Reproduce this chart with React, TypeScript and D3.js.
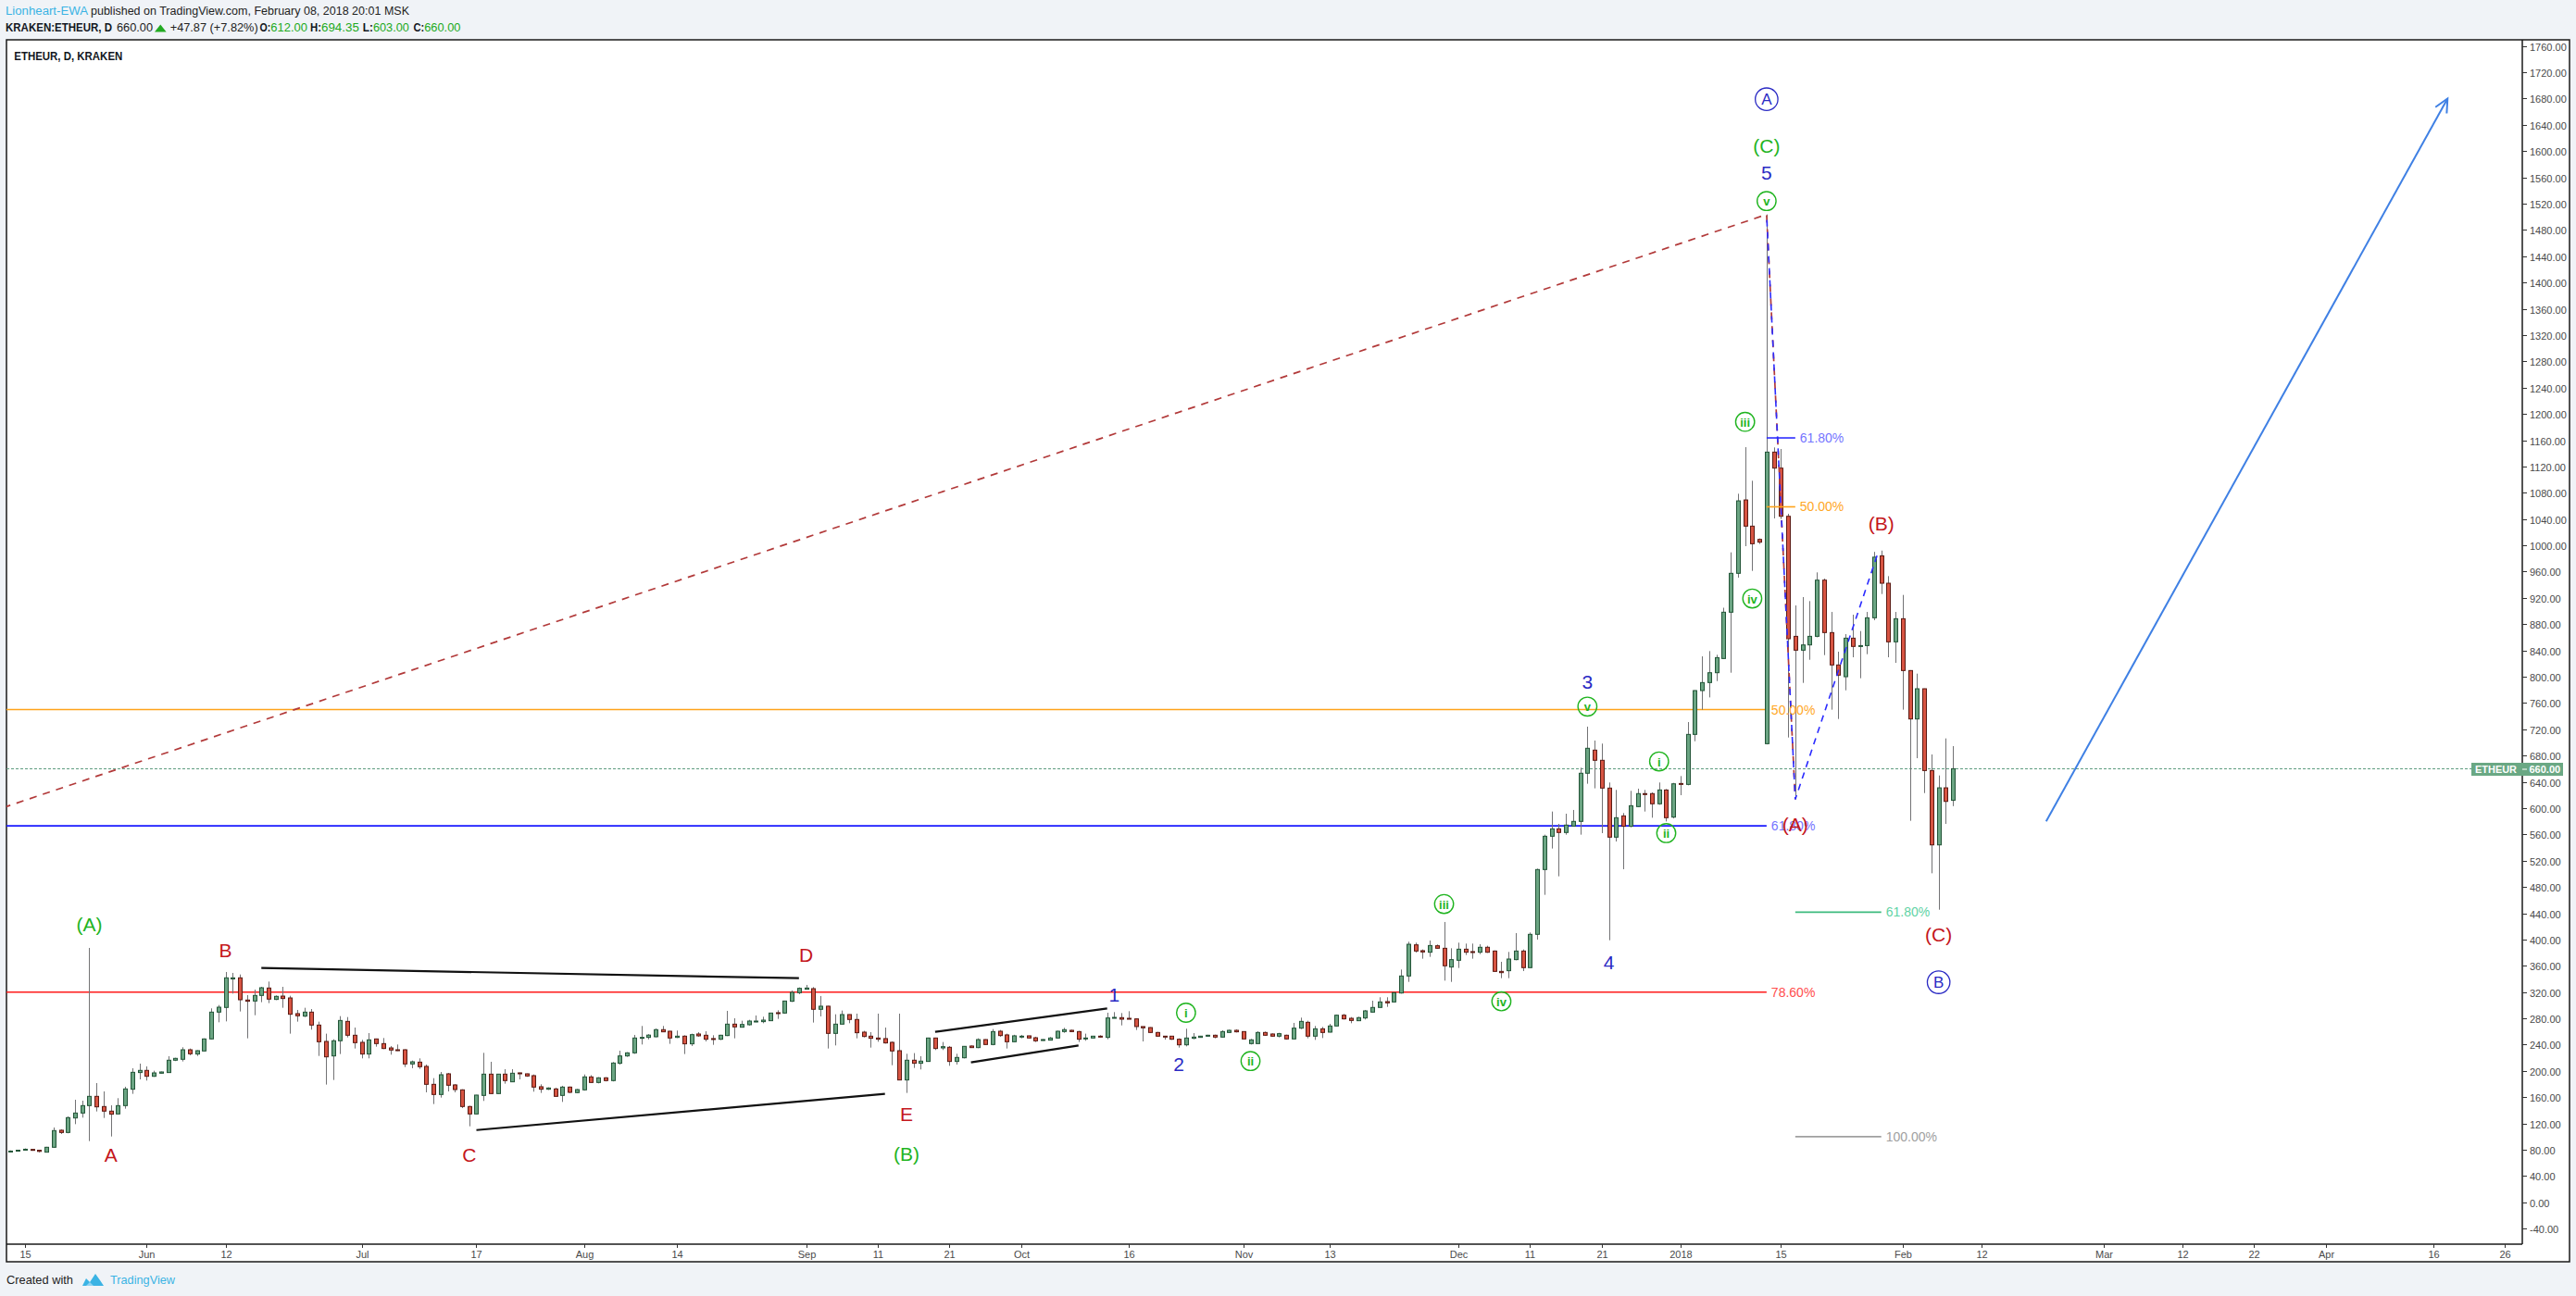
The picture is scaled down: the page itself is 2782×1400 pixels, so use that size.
import React from "react";
import * as d3 from "d3";

const FONT = "'Liberation Sans', Arial, Helvetica, sans-serif";

// ---------- data: daily candles, first candle on 2017-05-13 ----------
const firstDay = "2017-05-13";

const opens = [
  77.5,78.5,79.5,80.5,79.3,76.3,83.8,109.7,106.3,128.4,135.9,147.2,161.3,145.8,138.8,134.5,147.2,172.1,197.5,
  200.8,191.8,196.5,197.5,216.3,217.7,232.2,225.7,230.4,248.7,289.5,296.6,340,341.7,307.9,306.4,314.9,326.2,308.8,313.9,311.1,287.2,283.4,289.5,269.8,244.9,222.8,245.9,275.4,254.3,
  243.5,225.7,248.7,241.6,235.0,232.2,232.2,210.6,213.4,206.9,179.6,164.1,195.6,178.7,171.2,145.8,134.5,162.7,195.1,165.5,195.1,183.4,197.0,195.6,192.8,175.9,172.1,172.6,162.7,175.4,167.0,
  171.2,190.9,182.4,189.5,185.3,211.6,222.8,227.5,249.6,251.0,252.0,262.8,260.4,251.0,252.9,241.2,256.2,254.3,249.2,248.2,253.8,271.2,266.5,270.3,274.5,275.0,276.4,288.6,288.1,306.0,319.1,
  324.3,325.2,293.8,298.5,257.1,271.2,285.8,278.3,259.0,252.9,250.1,249.2,243.5,230.8,186.2,216.3,211.6,214.4,250.1,235.0,236.0,214.4,220.0,237.9,235.5,247.7,240.2,260.4,254.8,244.4,
  252.0,253.4,250.5,246.3,246.8,250.1,259.9,261.8,259.9,248.7,250.1,252.9,251.0,280.6,281.1,280.1,279.2,267.5,266.0,258.5,252.9,252.9,248.2,239.7,249.6,251.0,252.9,254.3,251.5,258.5,261.8,
  259.9,241.6,241.6,258.5,256.2,252.9,254.3,248.7,265.1,274.0,252.9,264.1,259.0,268.4,284.8,280.1,276.4,280.6,289.5,296.6,305.5,305.0,318.6,344.5,391.9,383.0,380.6,390.5,386.7,358.1,
  368.4,385.3,381.6,380.6,388.2,382.5,351.5,352.5,369.4,382.5,357.2,407.9,506.5,557.2,568.5,562.9,572.7,579.8,653.1,688.3,672.8,630.5,555.8,588.2,572.3,602.3,622.1,622.1,606.6,627.6,586.3,
  637.5,636.1,712.2,778.9,791.1,806.1,827.7,898.2,957.4,1069.1,1029.2,1009.0,698.1,1141.9,1117.5,1044.2,861.5,840.4,848.4,861.5,947.0,867.2,817.9,800.0,858.7,846.1,847.4,889.7,984,942.3,853.1,
  888.3,809.4,735.7,781.7,657.2,544.0,630.9,612
];
const highs = [
  79,80,82,81,80,84.5,113.9,111,130.8,156.1,154.7,387.2,181.5,168.8,147.7,158.5,175.9,204.1,211.1,
  206.9,200.3,199,222.4,220,236.0,234.1,231.5,249.5,295.2,300.3,350.6,349.2,346.8,315.4,323.8,328.0,336.0,314.9,328.0,314.4,292.8,296.1,294.2,275.0,256.7,248.2,283.4,282.0,266.0,
  247.3,257.6,249.2,250.1,237.9,240.2,233.2,215.8,219.1,209.7,189.0,198.4,197,180,172,147,163.5,227.5,213.9,195.6,202.6,202.6,197.5,196,194.6,179.6,175,174.5,177.3,176.3,172.6,
  194.6,193.5,190.5,190.5,213.5,230.8,228.5,254.8,268.4,256,264.6,268.4,261,261.4,254.3,256.7,259.0,260.4,254.3,255,291.4,280.1,276.4,277.8,284.4,282.5,288.6,292.3,306.9,322.4,327.1,
  330.9,327.6,314.0,299,286.2,291.9,286,287.2,261,259.0,287.2,266.0,244.9,287.2,226.1,227.1,222.4,250.6,250.6,244.0,237.9,226.1,237.9,238.8,249.6,248.2,263.7,262.3,256.7,255,
  254.8,253.5,252,248.5,251.5,261.4,265.6,262.8,261,256.7,253.4,254.3,288.6,289.5,288.1,290.9,280,267.5,266.5,259.5,253.4,253,249.6,264.2,257.6,253.4,255,255.2,261.8,262.8,263.2,
  260.4,248.7,260.4,259.9,257.1,258,255.2,273.1,281.1,276.4,268.4,267.0,271.6,285.8,286.7,282.0,282.5,292.8,306.9,312.1,312.1,319.6,354.3,396.6,395.2,384.9,398.5,392.4,426.7,386.7,
  395.2,393.8,393.8,392.8,390.5,383.4,366.1,381.1,409.8,384.9,410.7,507.9,559.6,594.8,576.0,591.5,597.2,661.5,724.0,702.9,698.2,639.0,627.7,592.5,626.3,629.6,627.7,624.0,639.0,629.0,638.4,
  648.8,731.0,779.5,831.0,839.0,833.4,905,989.3,1078.5,1149.4,1098.3,1010.5,1503.6,1149.0,1146.6,1048,908.5,921.2,915.1,958.8,949.4,898.6,838.1,864.8,894.4,869.5,898.6,990,992,953.1,898.6,
  924.5,810,804.7,782,681.7,649.7,706.1,694.35
];
const lows = [
  76.5,78,79,78.5,76,76,83,104,105,119.0,128.9,93.2,138.3,128.4,100.2,134,142.5,165.1,187.1,
  185.3,191,196,197,215,214.4,223.8,222.8,230,248,274.0,275.4,317.7,290.5,249.6,284.8,304.6,303.2,307.8,296.1,256.7,275.0,282,262.8,222.8,179.2,186.2,225.7,251.0,234.1,
  219.1,219.1,236.9,233.2,224.7,230.4,205.9,204.1,203.1,167.4,149.6,159.4,168.8,167.4,143.4,115.7,134,154.3,165,165,180.6,183,187.1,191,168.4,166.5,171,160.8,152.8,166,166,
  170,182,181,184,184,209.7,221.4,226,240.2,248,251,259,241.2,250,225.7,237.9,252,244.9,239.7,247,253,249.6,266,269,274,272.6,275.9,279.2,287,305,316.8,
  324,273.6,283.0,234.1,238.8,271,272.6,249.6,251,235.5,244.4,241.6,208.7,186,166.5,204.5,202.2,214,231.8,231.8,207.8,209.7,219,235,234.6,239.7,239,252.0,234.1,244,
  249.6,249.6,244.0,245.8,246.3,249,258,259,244.0,245.9,249.6,251,248.2,280,269.3,278.7,262.3,244.9,258,252,247.7,247.3,235.5,237.4,248.2,250.6,252,249.6,251,258,258.5,
  248.2,240.2,241,253.4,252,251,247.7,248.2,263.7,249.6,247.2,250.0,258.5,268,278.2,272.6,275.9,278.3,289.0,296.1,297.5,304.6,317.7,335.5,380.2,370.8,373.6,385.8,337.4,335.5,
  356.7,376.4,370.8,377.8,379.7,350.6,341.2,341.2,368.4,352.0,356.7,399.9,468.0,538.5,496.2,559.6,572,559.6,637.1,630.1,561.9,398.9,549.2,507.0,570.9,601.4,594.8,585.4,605.1,579.7,584.4,
  619.7,634.7,701.8,749.8,768.5,793.4,827,806.1,950.8,998.7,961.1,1002,697,1040.9,1040,707.5,613.5,790.6,825.8,860,832.9,749.8,735.7,779.3,829.6,797.7,834.3,886,925.9,829.6,821.1,
  749.8,580.7,676.0,622.9,500.8,445.4,576.0,603
];
const closes = [
  78.0,79.3,80.8,79.3,77.5,83.8,109.2,106.3,128.9,135.9,147.2,161.3,145.3,138.8,134.1,147.2,172.6,197.9,200.8,
  191.8,197.0,198.4,216.3,219.1,232.2,226.1,230.8,248.7,289.5,297.0,341.7,341.7,308.3,306.0,314.9,326.6,309.3,313.5,310.2,286.2,283.9,289.5,269.8,244.4,221.4,245.9,276.8,254.3,243.0,
  225.7,247.3,241.6,234.1,231.8,231.3,210.6,213.9,206.4,179.6,164.1,194.2,178.2,171.6,145.8,134.5,163.2,195.1,165.5,195.1,185.3,196.5,195.6,192.3,175.4,172.1,174.0,161.3,175.4,167.4,171.6,
  190.9,182.4,189.5,185.3,212.0,222.8,227.5,250.1,251.0,254.5,262.8,259.5,250.1,252.9,241.2,255.2,253.4,248.2,248.2,254.3,271.2,267.0,270.7,275.9,275.9,277.3,288.1,287.6,306.4,319.6,325.7,
  326.2,293.8,298.5,257.1,271.2,285.8,278.3,258.1,252.4,249.6,248.2,242.6,230.4,186.2,216.3,211.6,214.9,250.1,234.1,236.9,214.4,220.5,237.4,235.5,247.7,240.2,259.9,253.8,244.4,253.4,
  252.9,250.1,245.8,247.7,250.1,260.4,262.8,259.9,248.2,250.1,252.9,251.5,280.6,281.5,278.7,279.2,267.5,265.6,258.5,252.9,252.4,248.2,239.7,250.1,251.5,252.9,254.3,251.5,259.9,261.8,259.5,
  248.7,247.3,258.5,254.3,252.9,256.7,248.7,265.1,275.4,252.9,264.1,258.5,268.4,284.8,279.2,276.8,281.1,291.4,296.6,305.0,303.6,319.1,344.5,392.8,382.5,381.1,390.9,386.7,360.0,369.4,
  385.3,380.6,380.6,388.2,380.6,351.5,349.6,370.3,382.5,357.2,407.9,506.5,557.2,568.5,562.9,574.2,579.8,653.1,691.1,672.8,630.5,555.8,585.4,572.3,603.7,622.1,621.1,606.6,627.7,585.4,637.0,
  636.1,712.2,778.9,791.1,806.1,829.1,898.2,957.4,1067.7,1029.2,1002.4,1004.8,1141.9,1117.5,1044.2,857.8,840.4,848.4,861.5,947.0,867.2,817.9,802.4,858.7,846.1,847.4,889.7,982,942.3,853.1,888.3,
  809.4,735.7,781.7,657.2,544.0,630.9,610.2,660
];

// ---------- axes ----------
const priceTicks = [-40,0,40,80,120,160,200,240,280,320,360,400,440,480,520,560,600,640,680,720,760,800,840,880,920,960,1000,1040,1080,1120,1160,1200,1240,1280,1320,1360,1400,1440,1480,1520,1560,1600,1640,1680,1720,1760];
const timeTickDates = ["2017-05-15","2017-06-01","2017-06-12","2017-07-01","2017-07-17","2017-08-01","2017-08-14","2017-09-01","2017-09-11","2017-09-21","2017-10-01","2017-10-16","2017-11-01","2017-11-13","2017-12-01","2017-12-11","2017-12-21","2018-01-01","2018-01-15","2018-02-01","2018-02-12","2018-03-01","2018-03-12","2018-03-22","2018-04-01","2018-04-16","2018-04-26"];
const timeTickLabels = ["15","Jun","12","Jul","17","Aug","14","Sep","11","21","Oct","16","Nov","13","Dec","11","21","2018","15","Feb","12","Mar","12","22","Apr","16","26"];
const lastPrice = 660;

// ---------- annotations ----------
const GREEN = "#1fb41f";
const RED = "#c4161c";
const BLUE = "#2a2ac4";

const waveLabels = [
  { text: "(A)", date: "2017-05-24", price: 423, color: GREEN },
  { text: "B", date: "2017-06-12", price: 383, color: RED },
  { text: "A", date: "2017-05-27", price: 72, color: RED },
  { text: "C", date: "2017-07-16", price: 72, color: RED },
  { text: "D", date: "2017-09-01", price: 376, color: RED },
  { text: "E", date: "2017-09-15", price: 134, color: RED },
  { text: "(B)", date: "2017-09-15", price: 74, color: GREEN },
  { text: "1", date: "2017-10-14", price: 316, color: BLUE },
  { text: "2", date: "2017-10-23", price: 211, color: BLUE },
  { text: "3", date: "2017-12-19", price: 792, color: BLUE },
  { text: "4", date: "2017-12-22", price: 365, color: BLUE },
  { text: "5", date: "2018-01-13", price: 1567, color: BLUE },
  { text: "(C)", date: "2018-01-13", price: 1608, color: GREEN },
  { text: "(A)", date: "2018-01-17", price: 575, color: RED },
  { text: "(B)", date: "2018-01-29", price: 1033, color: RED },
  { text: "(C)", date: "2018-02-06", price: 407, color: RED },
];
const circledMinor = [
  { text: "i", date: "2017-10-24", price: 288.6 },
  { text: "ii", date: "2017-11-02", price: 215 },
  { text: "iii", date: "2017-11-29", price: 454 },
  { text: "iv", date: "2017-12-07", price: 306 },
  { text: "v", date: "2017-12-19", price: 754.5 },
  { text: "i", date: "2017-12-29", price: 671 },
  { text: "ii", date: "2017-12-30", price: 562 },
  { text: "iii", date: "2018-01-10", price: 1188 },
  { text: "iv", date: "2018-01-11", price: 919 },
  { text: "v", date: "2018-01-13", price: 1524 },
];
const circledMajor = [
  { text: "A", date: "2018-01-13", price: 1679 },
  { text: "B", date: "2018-02-06", price: 335 },
];

const trianglePts = [
  [["2017-06-17", 356.6], ["2017-08-31", 341.1]],
  [["2017-07-17", 110], ["2017-09-12", 165]],
  [["2017-09-19", 259.4], ["2017-10-13", 295.2]],
  [["2017-09-24", 212.9], ["2017-10-09", 238.8]],
];
const redTrendPts = [["2017-05-12", 600.8], ["2018-01-13", 1503.6], ["2018-01-17", 613.5]];
const blueZigPts = [["2018-01-13", 1503.6], ["2018-01-17", 613.5], ["2018-01-28T14:00:00Z", 990]];
const arrowPts = [["2018-02-21", 580], ["2018-04-18", 1680]];

const fibLeft = [
  { label: "50.00%", price: 750, line: "#ffa31a", text: "#ffa726" },
  { label: "61.80%", price: 573, line: "#1a1aff", text: "#7575ff" },
  { label: "78.60%", price: 320, line: "#ff1a1a", text: "#ff4d4d" },
];
const fibLeftEnd = "2018-01-13";
const fibRight = [
  { label: "61.80%", price: 1163.5, line: "#2b2bff", text: "#7575ff" },
  { label: "50.00%", price: 1058.6, line: "#ffa31a", text: "#ffa726" },
];
const fibRightSpan = ["2018-01-13", "2018-01-17"];
const fibExt = [
  { label: "61.80%", price: 441.6, line: "#3dbb7e", text: "#5fd3a5" },
  { label: "100.00%", price: 100, line: "#a0a0a0", text: "#a0a0a0" },
];
const fibExtSpan = ["2018-01-17", "2018-01-29"];

const parseDay = (s: string) => new Date(s.length === 10 ? s + "T00:00:00Z" : s);

export default function App() {
  const W = 2782, H = 1400;
  const panelL = 7, panelT = 43, panelR = 2775, panelB = 1363;
  const axisX = 2724, axisY = 1344;

  const x = d3.scaleUtc().domain([parseDay("2017-05-15"), parseDay("2018-04-26")]).range([26.8, 2705.2]);
  const y = d3.scaleLinear().domain([0, 1760]).range([1298.8, 49.7]);

  const start = parseDay(firstDay);
  const n = Math.min(opens.length, highs.length, lows.length, closes.length);
  const candles = d3.range(n).map((i) => ({
    date: d3.utcDay.offset(start, i), o: opens[i], h: highs[i], l: lows[i], c: closes[i],
  }));

  const px = (d: string) => x(parseDay(d));
  const line = d3.line<any>().x((p) => px(p[0])).y((p) => y(p[1]));

  const a0 = arrowPts[0], a1 = arrowPts[1];
  const ax0 = px(a0[0] as string), ay0 = y(a0[1] as number), ax1 = px(a1[0] as string), ay1 = y(a1[1] as number);
  const ang = Math.atan2(ay1 - ay0, ax1 - ax0);
  const hl = 16, hw = 0.45;
  const head = `M${ax1 - hl * Math.cos(ang - hw)},${ay1 - hl * Math.sin(ang - hw)} L${ax1},${ay1} L${ax1 - hl * Math.cos(ang + hw)},${ay1 - hl * Math.sin(ang + hw)}`;

  const yLast = Math.round(y(lastPrice)) + 0.5;

  return (
    <svg width={W} height={H} style={{ position: "absolute", left: 0, top: 0, display: "block" }} fontFamily={FONT}>
      <rect x={0} y={0} width={W} height={H} fill="#f0f3f7" />
      <defs>
        <clipPath id="plot">
          <rect x={panelL} y={panelT} width={axisX - panelL} height={axisY - panelT} />
        </clipPath>
      </defs>

      {/* header */}
      <g fontSize={12.5}>
        <text x={6} y={16} fill="#3bb3e4" textLength={89} lengthAdjust="spacingAndGlyphs">Lionheart-EWA</text>
        <text x={98} y={16} fill="#222" textLength={344} lengthAdjust="spacingAndGlyphs">published on TradingView.com, February 08, 2018 20:01 MSK</text>
        <text x={6} y={34} fill="#131722" fontWeight="bold" textLength={115} lengthAdjust="spacingAndGlyphs">KRAKEN:ETHEUR, D</text>
        <text x={126} y={34} fill="#222" textLength={39} lengthAdjust="spacingAndGlyphs">660.00</text>
        <path d="M167,34.5 L179.6,34.5 L173.3,26.5 Z" fill="#22aa22" />
        <text x={183.7} y={34} fill="#222" textLength={95} lengthAdjust="spacingAndGlyphs">+47.87 (+7.82%)</text>
        <text x={280.6} y={34} fill="#131722" fontWeight="bold" textLength={11.7} lengthAdjust="spacingAndGlyphs">O:</text>
        <text x={292.3} y={34} fill="#22aa22" textLength={39.7} lengthAdjust="spacingAndGlyphs">612.00</text>
        <text x={335} y={34} fill="#131722" fontWeight="bold" textLength={12} lengthAdjust="spacingAndGlyphs">H:</text>
        <text x={347} y={34} fill="#22aa22" textLength={40.8} lengthAdjust="spacingAndGlyphs">694.35</text>
        <text x={391.8} y={34} fill="#131722" fontWeight="bold" textLength={11.2} lengthAdjust="spacingAndGlyphs">L:</text>
        <text x={403} y={34} fill="#22aa22" textLength={38.8} lengthAdjust="spacingAndGlyphs">603.00</text>
        <text x={446.4} y={34} fill="#131722" fontWeight="bold" textLength={11.8} lengthAdjust="spacingAndGlyphs">C:</text>
        <text x={458.2} y={34} fill="#22aa22" textLength={39.2} lengthAdjust="spacingAndGlyphs">660.00</text>
      </g>

      {/* panel */}
      <rect x={panelL} y={panelT} width={panelR - panelL} height={panelB - panelT} fill="#ffffff" stroke="#1a1a1a" strokeWidth={1.5} />
      <text x={15.3} y={65} fontSize={12.5} fontWeight="bold" fill="#131722" textLength={117} lengthAdjust="spacingAndGlyphs">ETHEUR, D, KRAKEN</text>

      <g clipPath="url(#plot)">
        {/* left fib levels */}
        {fibLeft.map((f, i) => (
          <line key={"fl" + i} x1={panelL} x2={px(fibLeftEnd)} y1={y(f.price)} y2={y(f.price)} stroke={f.line} strokeWidth={1.6} />
        ))}
        {/* last price line */}
        <line x1={panelL} x2={2669} y1={yLast} y2={yLast} stroke="#5f9c80" strokeWidth={1} strokeDasharray="3 2" />

        {/* candles */}
        {candles.map((d, i) => {
          const cx = Math.round(x(d.date)) + 0.5;
          const up = d.c >= d.o;
          const top = y(Math.max(d.o, d.c));
          const bot = y(Math.min(d.o, d.c));
          const h = Math.max(1, bot - top);
          return (
            <g key={"c" + i}>
              <line x1={cx} x2={cx} y1={y(d.h)} y2={y(d.l)} stroke="#737375" strokeWidth={1} />
              <rect x={cx - 2} y={top} width={4} height={h} fill={up ? "#6ba583" : "#d75442"} stroke={up ? "#225437" : "#5b1a13"} strokeWidth={1} />
            </g>
          );
        })}

        {/* triangle / channel lines */}
        {trianglePts.map((pts, i) => (
          <path key={"t" + i} d={line(pts as any) as string} stroke="#111" strokeWidth={2.2} fill="none" />
        ))}

        {/* red dashed trend line */}
        <path d={line(redTrendPts as any) as string} stroke="#b23a3a" strokeWidth={1.7} fill="none" strokeDasharray="8 7" />
        {/* blue dashed zigzag */}
        <path d={line(blueZigPts as any) as string} stroke="#2b2bff" strokeWidth={1.6} fill="none" strokeDasharray="7 6" strokeDashoffset={7} />

        {/* right fibs */}
        {fibRight.map((f, i) => (
          <line key={"fr" + i} x1={px(fibRightSpan[0])} x2={px(fibRightSpan[1])} y1={y(f.price)} y2={y(f.price)} stroke={f.line} strokeWidth={1.6} />
        ))}
        {fibExt.map((f, i) => (
          <line key={"fe" + i} x1={px(fibExtSpan[0])} x2={px(fibExtSpan[1])} y1={y(f.price)} y2={y(f.price)} stroke={f.line} strokeWidth={1.6} />
        ))}

        {/* blue arrow */}
        <line x1={ax0} y1={ay0} x2={ax1} y2={ay1} stroke="#3f80e4" strokeWidth={2} />
        <path d={head} stroke="#3f80e4" strokeWidth={2} fill="none" />
      </g>

      {/* fib labels */}
      <g fontSize={14} dominantBaseline="central">
        {fibLeft.map((f, i) => (
          <text key={"flt" + i} x={px(fibLeftEnd) + 5} y={y(f.price)} fill={f.text}>{f.label}</text>
        ))}
        {fibRight.map((f, i) => (
          <text key={"frt" + i} x={px(fibRightSpan[1]) + 5} y={y(f.price)} fill={f.text}>{f.label}</text>
        ))}
        {fibExt.map((f, i) => (
          <text key={"fet" + i} x={px(fibExtSpan[1]) + 5} y={y(f.price)} fill={f.text}>{f.label}</text>
        ))}
      </g>

      {/* wave labels */}
      <g fontSize={21} textAnchor="middle" dominantBaseline="central">
        {waveLabels.map((w, i) => (
          <text key={"w" + i} x={px(w.date)} y={y(w.price)} fill={w.color}>{w.text}</text>
        ))}
      </g>
      {circledMinor.map((c, i) => (
        <g key={"cm" + i} transform={`translate(${px(c.date)},${y(c.price)})`}>
          <circle r={10.2} fill="none" stroke={GREEN} strokeWidth={1.4} />
          <text textAnchor="middle" dominantBaseline="central" fontSize={13} fontWeight="bold" fill={GREEN} y={0.5}>{c.text}</text>
        </g>
      ))}
      {circledMajor.map((c, i) => (
        <g key={"cM" + i} transform={`translate(${px(c.date)},${y(c.price)})`}>
          <circle r={12.2} fill="none" stroke={BLUE} strokeWidth={1.3} />
          <text textAnchor="middle" dominantBaseline="central" fontSize={17} fill={BLUE} y={0.5}>{c.text}</text>
        </g>
      ))}

      {/* axes lines */}
      <line x1={panelL} x2={axisX} y1={axisY} y2={axisY} stroke="#1a1a1a" strokeWidth={1.5} />
      <line x1={axisX} x2={axisX} y1={panelT} y2={axisY} stroke="#1a1a1a" strokeWidth={1.5} />

      {/* price axis */}
      <g fontSize={11} fill="#4a4a4a">
        {priceTicks.map((p) => {
          const yy = Math.round(y(p)) + 0.5;
          return (
            <g key={"p" + p}>
              <line x1={axisX} x2={axisX + 5} y1={yy} y2={yy} stroke="#333" strokeWidth={1} />
              <text x={2732} y={yy} dominantBaseline="central">{p.toFixed(2)}</text>
            </g>
          );
        })}
      </g>

      {/* last price label */}
      <rect x={2669} y={824} width={99} height={14} fill="#6aa884" />
      <line x1={axisX} x2={axisX + 5} y1={831} y2={831} stroke="#ffffff" strokeWidth={1} />
      <text x={2673} y={831} dominantBaseline="central" fontSize={11} fontWeight="bold" fill="#ffffff" textLength={45} lengthAdjust="spacingAndGlyphs">ETHEUR</text>
      <text x={2731.5} y={831} dominantBaseline="central" fontSize={11} fontWeight="bold" fill="#ffffff">{lastPrice.toFixed(2)}</text>

      {/* time axis */}
      <g fontSize={11} fill="#4a4a4a" textAnchor="middle">
        {timeTickDates.map((d, i) => {
          const xx = Math.round(px(d)) + 0.5;
          return (
            <g key={"tt" + i}>
              <line x1={xx} x2={xx} y1={axisY} y2={axisY + 4} stroke="#333" strokeWidth={1} />
              <text x={xx} y={1359}>{timeTickLabels[i]}</text>
            </g>
          );
        })}
      </g>

      {/* footer */}
      <text x={7} y={1387} fontSize={13} fill="#222" textLength={72} lengthAdjust="spacingAndGlyphs">Created with</text>
      <path d="M89,1389 L93,1381 L97,1385 L103,1376 L108,1383 L112,1389 Z" fill="#3bb3e4" />
      <path d="M93,1389 L97,1385 L101,1389 Z" fill="#8fd3f2" />
      <text x={119} y={1387} fontSize={13} fill="#3bb3e4" textLength={70} lengthAdjust="spacingAndGlyphs">TradingView</text>
    </svg>
  );
}
